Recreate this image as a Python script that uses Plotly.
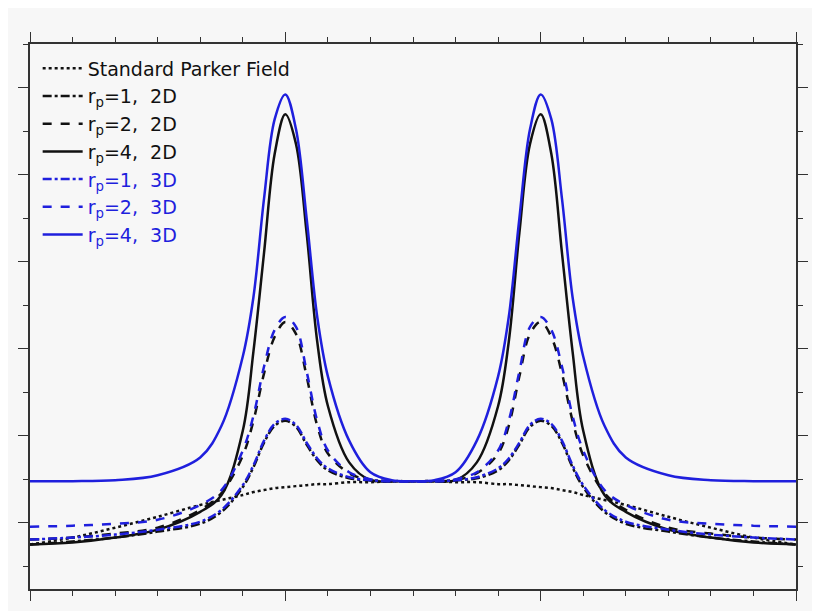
import plotly.graph_objects as go

# longitude-like coordinate (deg)
x = [0, 20, 40, 60, 80, 90, 100, 105, 110, 115, 120, 125, 130, 135, 140, 150, 160, 170, 180,
     190, 200, 210, 220, 225, 230, 235, 240, 245, 250, 255, 260, 270, 280, 300, 320, 340, 360]

parker = [45, 52, 62, 73, 85, 90, 95, 98, 100, 102, 103, 104, 105, 106, 106, 108, 108, 109, 109,
          109, 108, 108, 106, 106, 105, 104, 103, 102, 100, 98, 95, 90, 85, 73, 62, 52, 45]
r1_2d = [45, 48, 52, 58, 66, 78, 103, 123, 148, 165, 170, 164, 146, 130, 120, 112, 110, 109, 109,
         109, 110, 112, 120, 130, 146, 164, 170, 165, 148, 123, 103, 78, 66, 58, 52, 48, 45]
r2_2d = [50, 52, 56, 62, 80, 97, 135, 170, 218, 255, 270, 258, 215, 165, 137, 117, 110, 109, 109,
         109, 110, 117, 137, 165, 215, 258, 270, 255, 218, 170, 135, 97, 80, 62, 56, 52, 50]
r4_2d = [45, 47, 52, 60, 78, 95, 160, 240, 340, 440, 480, 450, 360, 250, 185, 128, 110, 109, 109,
         109, 110, 128, 185, 250, 360, 450, 480, 440, 340, 240, 160, 95, 78, 60, 52, 47, 45]
r1_3d = [50, 52, 55, 60, 68, 80, 105, 125, 150, 167, 172, 166, 148, 132, 122, 113, 110, 109, 109,
         109, 110, 113, 122, 132, 148, 166, 172, 167, 150, 125, 105, 80, 68, 60, 55, 52, 50]
r2_3d = [63, 64, 66, 70, 85, 100, 140, 175, 225, 262, 275, 265, 220, 170, 140, 118, 111, 109, 109,
         109, 111, 118, 140, 170, 220, 265, 275, 262, 225, 175, 140, 100, 85, 70, 66, 64, 63]
r4_3d = [109, 109, 110, 115, 133, 165, 235, 295, 395, 475, 500, 465, 375, 275, 215, 150, 118, 110, 109,
         110, 118, 150, 215, 275, 375, 465, 500, 475, 395, 295, 235, 165, 133, 115, 110, 109, 109]

BLACK = "#111111"
BLUE = "#1f1fdd"

series = [
    ("Standard Parker Field", parker, BLACK, "dot"),
    ("r<sub>p</sub>=1,  2D", r1_2d, BLACK, "dashdot"),
    ("r<sub>p</sub>=2,  2D", r2_2d, BLACK, "dash"),
    ("r<sub>p</sub>=4,  2D", r4_2d, BLACK, "solid"),
    ("r<sub>p</sub>=1,  3D", r1_3d, BLUE, "dashdot"),
    ("r<sub>p</sub>=2,  3D", r2_3d, BLUE, "dash"),
    ("r<sub>p</sub>=4,  3D", r4_3d, BLUE, "solid"),
]

fig = go.Figure()
for name, y, color, dash in series:
    fig.add_trace(go.Scatter(
        x=x, y=y, mode="lines", line=dict(color=color, dash=dash, width=2.5, shape="spline"),
        name=f"<span style='color:{color}'>{name}</span>",
    ))

axis_common = dict(showgrid=False, zeroline=False, showline=True, linecolor="#333",
                   linewidth=1.5, mirror="ticks", ticks="outside", ticklen=10,
                   tickcolor="#333", showticklabels=False)
fig.update_xaxes(range=[0, 360], tick0=0, dtick=120,
                 minor=dict(ticks="outside", ticklen=5, dtick=20, tickcolor="#333"), **axis_common)
fig.update_yaxes(range=[0, 551], tick0=67, dtick=88,
                 minor=dict(ticks="outside", ticklen=5, tick0=23, dtick=44, tickcolor="#333"), **axis_common)

fig.update_layout(
    width=812, height=603,
    margin=dict(l=14, r=14, t=36, b=16),
    paper_bgcolor="#f7f7f7", plot_bgcolor="#f7f7f7",
    font=dict(family="DejaVu Sans", size=19, color=BLACK),
    legend=dict(x=0.01, y=0.99, xanchor="left", yanchor="top", bgcolor="rgba(0,0,0,0)",
                tracegroupgap=0, itemwidth=40),
    showlegend=True,
)

fig.write_html("out.html")
